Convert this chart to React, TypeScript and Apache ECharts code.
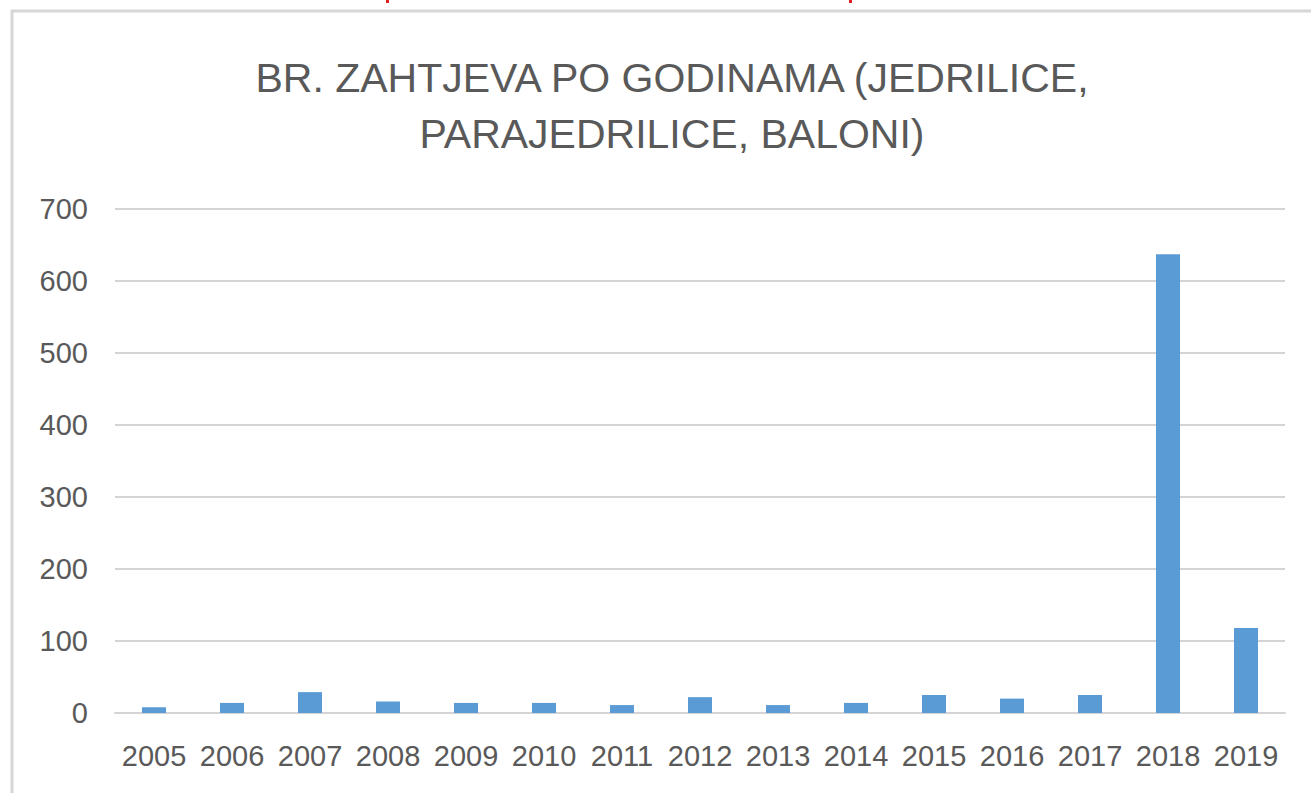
import React, { useEffect, useRef } from "react";
import * as echarts from "echarts";

const titleText = "BR. ZAHTJEVA PO GODINAMA (JEDRILICE,\nPARAJEDRILICE, BALONI)";
const years = ["2005", "2006", "2007", "2008", "2009", "2010", "2011", "2012", "2013", "2014", "2015", "2016", "2017", "2018", "2019"];
const requests = [8, 14, 29, 16, 14, 14, 11, 22, 11, 14, 25, 20, 25, 637, 118];
const yMin = 0;
const yMax = 700;
const yStep = 100;

export default function App() {
  const ref = useRef<HTMLDivElement>(null);
  useEffect(() => {
    if (!ref.current) return;
    const chart = echarts.init(ref.current, null, { renderer: "svg" });
    chart.setOption({
      animation: false,
      backgroundColor: "#ffffff",
      title: {
        text: titleText,
        left: 667,
        textAlign: "center",
        top: 45,
        textStyle: {
          fontFamily: "Liberation Sans, Arial, sans-serif",
          fontSize: 41,
          fontWeight: "normal",
          color: "#595959",
          lineHeight: 56,
        },
      },
      grid: { left: 115, right: 26, top: 209, bottom: 80, containLabel: false },
      xAxis: {
        type: "category",
        data: years,
        axisLine: { show: true, lineStyle: { color: "#d4d4d4", width: 2 } },
        axisTick: { show: false },
        axisLabel: {
          color: "#595959",
          fontFamily: "Liberation Sans, Arial, sans-serif",
          fontSize: 29,
          margin: 28,
          interval: 0,
        },
      },
      yAxis: {
        type: "value",
        min: yMin,
        max: yMax,
        interval: yStep,
        axisLine: { show: false },
        axisTick: { show: false },
        splitLine: { lineStyle: { color: "#d4d4d4", width: 2 } },
        axisLabel: {
          color: "#595959",
          fontFamily: "Liberation Sans, Arial, sans-serif",
          fontSize: 29,
          margin: 27,
        },
      },
      series: [
        {
          type: "bar",
          data: requests,
          barWidth: 24,
          itemStyle: { color: "#5b9bd5" },
        },
      ],
      graphic: [
        {
          type: "polyline",
          shape: { points: [[12, 800], [12, 11], [1320, 11]] },
          style: { stroke: "#d6d6d6", lineWidth: 3, fill: "none" },
        },
        { type: "rect", shape: { x: 386, y: 0, width: 3, height: 3 }, style: { fill: "#e02020" } },
        { type: "rect", shape: { x: 849, y: 0, width: 3, height: 3 }, style: { fill: "#e02020" } },
      ],
    });
    return () => chart.dispose();
  }, []);
  return (
    <div
      ref={ref}
      style={{ position: "absolute", left: 0, top: 0, width: 1311, height: 793 }}
    />
  );
}
